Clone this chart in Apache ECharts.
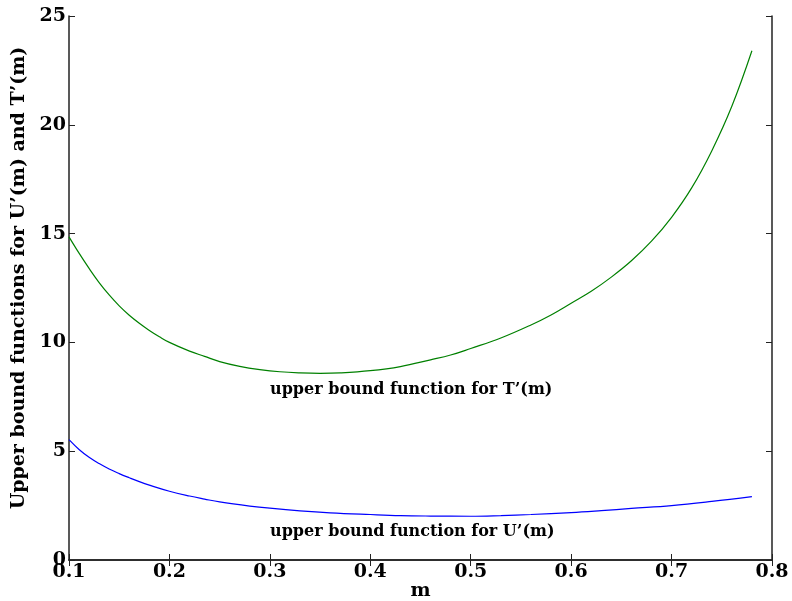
<!DOCTYPE html>
<html>
<head>
<meta charset="utf-8">
<script src="https://cdn.jsdelivr.net/npm/echarts@6/dist/echarts.min.js"></script>
<style>
  html, body { margin: 0; padding: 0; background: #fff; }
  #chart { width: 792px; height: 601px; }
</style>
</head>
<body>
<div id="chart"></div>
<script>
// values
const mT = [0.10, 0.11, 0.12, 0.13, 0.14, 0.15, 0.16, 0.17, 0.18, 0.19, 0.20, 0.22, 0.235, 0.25, 0.27, 0.29, 0.31, 0.33, 0.35, 0.37, 0.40, 0.43, 0.46, 0.48, 0.50, 0.53, 0.56, 0.58, 0.60, 0.62, 0.64, 0.66, 0.68, 0.70, 0.72, 0.74, 0.76, 0.78]
const tUpper = [14.85, 14.1, 13.4, 12.75, 12.18, 11.68, 11.25, 10.88, 10.55, 10.26, 10.0, 9.6, 9.36, 9.12, 8.9, 8.75, 8.65, 8.6, 8.58, 8.6, 8.7, 8.89, 9.2, 9.42, 9.72, 10.2, 10.8, 11.26, 11.8, 12.35, 13.0, 13.75, 14.65, 15.75, 17.1, 18.8, 20.85, 23.4]
const mU = [0.10, 0.11, 0.12, 0.13, 0.14, 0.15, 0.16, 0.17, 0.18, 0.20, 0.22, 0.235, 0.25, 0.28, 0.30, 0.33, 0.36, 0.40, 0.43, 0.46, 0.50, 0.53, 0.56, 0.60, 0.63, 0.66, 0.70, 0.74, 0.78]
const uUpper = [5.53, 5.08, 4.72, 4.43, 4.18, 3.97, 3.78, 3.6, 3.44, 3.16, 2.94, 2.8, 2.67, 2.48, 2.38, 2.26, 2.17, 2.09, 2.04, 2.02, 2.01, 2.04, 2.09, 2.18, 2.27, 2.37, 2.5, 2.69, 2.91]
const xTicks = [0.1, 0.2, 0.3, 0.4, 0.5, 0.6, 0.7, 0.8]
const yTicks = [0, 5, 10, 15, 20, 25]

const font = 'DejaVu Serif'
const frame = { show: true, lineStyle: { color: '#222', width: 1.5 } }
const tick = { show: true, inside: true, length: 6, lineStyle: { color: '#222', width: 1 } }

let myChart = echarts.init(document.getElementById('chart'))
let option = {
  animation: false,
  grid: { left: 69, right: 20, top: 16, bottom: 41, outerBoundsMode: 'none', containLabel: false },
  xAxis: [
    {
      type: 'value',
      min: xTicks[0],
      max: xTicks[xTicks.length - 1],
      interval: 0.1,
      name: 'm',
      nameLocation: 'middle',
      nameGap: 22,
      nameMoveOverlap: false,
      nameTextStyle: { fontFamily: font, fontWeight: 'bold', fontSize: 19, color: '#000' },
      axisLine: frame,
      axisTick: tick,
      splitLine: { show: false },
      axisLabel: {
        fontFamily: font, fontWeight: 'bold', fontSize: 19, color: '#000', margin: 3,
        formatter: v => v.toFixed(1)
      }
    },
    {
      type: 'value',
      position: 'top',
      min: xTicks[0],
      max: xTicks[xTicks.length - 1],
      interval: 0.1,
      axisLine: frame,
      axisTick: tick,
      splitLine: { show: false },
      axisLabel: { show: false }
    }
  ],
  yAxis: [
    {
      type: 'value',
      min: yTicks[0],
      max: yTicks[yTicks.length - 1],
      interval: 5,
      name: 'Upper bound functions for U’(m) and T’(m)',
      nameLocation: 'middle',
      nameGap: 40,
      nameTextStyle: { fontFamily: font, fontWeight: 'bold', fontSize: 19, color: '#000', padding: [0, 0, 0, 20] },
      axisLine: frame,
      axisTick: tick,
      splitLine: { show: false },
      axisLabel: { fontFamily: font, fontWeight: 'bold', fontSize: 19, color: '#000', margin: 3 }
    },
    {
      type: 'value',
      position: 'right',
      min: yTicks[0],
      max: yTicks[yTicks.length - 1],
      interval: 5,
      axisLine: frame,
      axisTick: tick,
      splitLine: { show: false },
      axisLabel: { show: false }
    }
  ],
  series: [
    {
      name: 'T',
      type: 'line',
      smooth: 0.4,
      symbol: 'none',
      data: mT.map((m, i) => [m, tUpper[i]]),
      lineStyle: { color: '#008000', width: 1.2 }
    },
    {
      name: 'U',
      type: 'line',
      smooth: 0.4,
      symbol: 'none',
      data: mU.map((m, i) => [m, uUpper[i]]),
      lineStyle: { color: '#0000ff', width: 1.2 }
    }
  ],
  graphic: [
    {
      type: 'text', left: 270, top: 382,
      style: { text: 'upper bound function for T’(m)', font: 'bold 16px "DejaVu Serif"', fill: '#000' }
    },
    {
      type: 'text', left: 270, top: 524,
      style: { text: 'upper bound function for U’(m)', font: 'bold 16px "DejaVu Serif"', fill: '#000' }
    }
  ]
}
myChart.setOption(option)
window.addEventListener('resize', function () {
  myChart.resize()
})
</script>
</body>
</html>
